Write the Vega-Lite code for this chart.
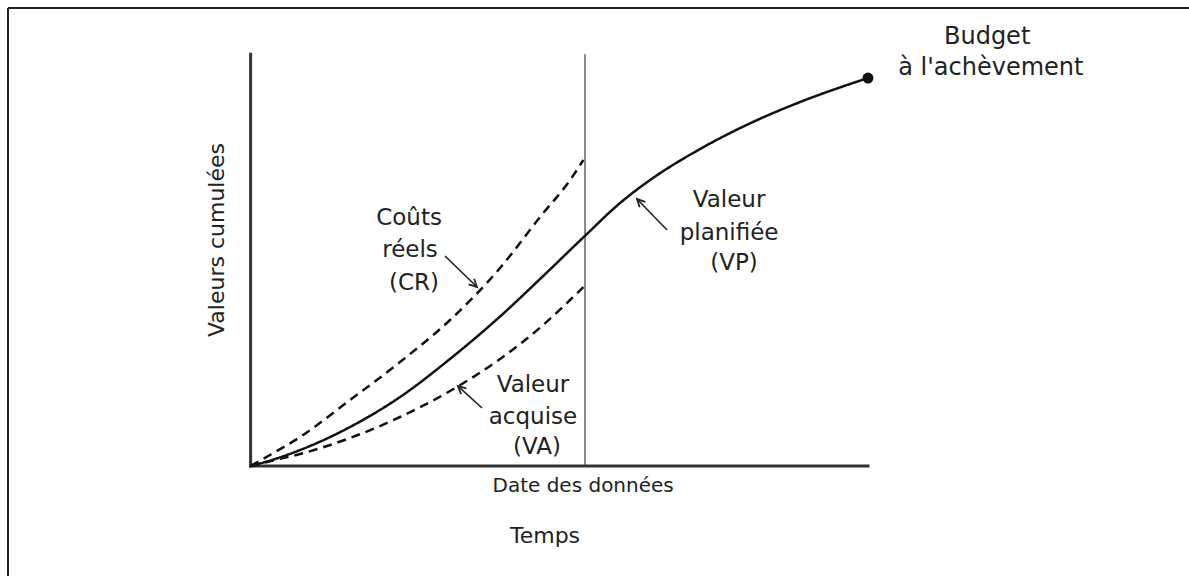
{
  "$schema": "https://vega.github.io/schema/vega-lite/v6.json",
  "width": 1181,
  "height": 568,
  "autosize": {"type": "none"},
  "padding": {"left": 8, "top": 8, "right": 0, "bottom": 0},
  "background": "white",
  "config": {"view": {"stroke": null}},
  "datasets": {
    "curves": [
      {"series": "VP", "t": 0, "v": 0},
      {"series": "VP", "t": 3.95, "v": 1.7},
      {"series": "VP", "t": 8.0, "v": 3.88},
      {"series": "VP", "t": 16.1, "v": 9.47},
      {"series": "VP", "t": 24.2, "v": 16.75},
      {"series": "VP", "t": 32.3, "v": 26.0},
      {"series": "VP", "t": 40.4, "v": 36.3},
      {"series": "VP", "t": 46.88, "v": 45.4},
      {"series": "VP", "t": 54.1, "v": 55.8},
      {"series": "VP", "t": 59.84, "v": 63.85},
      {"series": "VP", "t": 64.7, "v": 69.43},
      {"series": "VP", "t": 72.8, "v": 76.96},
      {"series": "VP", "t": 80.9, "v": 83.2},
      {"series": "VP", "t": 89.0, "v": 88.37},
      {"series": "VP", "t": 100, "v": 94.2},
      {"series": "CR", "t": 0, "v": 0},
      {"series": "CR", "t": 3.14, "v": 2.67},
      {"series": "CR", "t": 8.0, "v": 7.04},
      {"series": "CR", "t": 16.1, "v": 16.02},
      {"series": "CR", "t": 24.2, "v": 25.25},
      {"series": "CR", "t": 32.3, "v": 35.45},
      {"series": "CR", "t": 40.4, "v": 48.07},
      {"series": "CR", "t": 46.88, "v": 60.45},
      {"series": "CR", "t": 51.75, "v": 69.43},
      {"series": "CR", "t": 53.9, "v": 74.29},
      {"series": "VA", "t": 0, "v": 0},
      {"series": "VA", "t": 3.95, "v": 1.46},
      {"series": "VA", "t": 8.0, "v": 2.91},
      {"series": "VA", "t": 16.1, "v": 6.8},
      {"series": "VA", "t": 24.2, "v": 11.9},
      {"series": "VA", "t": 32.3, "v": 18.21},
      {"series": "VA", "t": 40.4, "v": 25.98},
      {"series": "VA", "t": 47.37, "v": 34.23},
      {"series": "VA", "t": 53.9, "v": 43.46}
    ],
    "lines": [
      {"kind": "frame", "t": -39.3, "v": 111.2, "t2": 152, "v2": 111.2},
      {"kind": "frame", "t": -39.3, "v": -26.7, "t2": -39.3, "v2": 111.2},
      {"kind": "axis", "t": 0, "v": 0, "t2": 0, "v2": 100},
      {"kind": "axis", "t": 0, "v": 0, "t2": 100, "v2": 0},
      {"kind": "date", "t": 54.17, "v": 0, "t2": 54.17, "v2": 100}
    ],
    "arrows": [
      {"label": "CR", "t": 31.49, "v": 50.98, "t2": 36.67, "v2": 43.46},
      {"label": "VP", "t": 67.45, "v": 57.3, "t2": 62.59, "v2": 64.82},
      {"label": "VA", "t": 37.48, "v": 14.08, "t2": 33.59, "v2": 19.42}
    ],
    "labels": [
      {"role": "note", "text": "Coûts", "t": 25.66, "v": 60.21},
      {"role": "note", "text": "réels", "t": 25.82, "v": 52.44},
      {"role": "note", "text": "(CR)", "t": 26.47, "v": 44.43},
      {"role": "note", "text": "Valeur", "t": 77.5, "v": 64.58},
      {"role": "note", "text": "planifiée", "t": 77.5, "v": 56.57},
      {"role": "note", "text": "(VP)", "t": 78.3, "v": 49.28},
      {"role": "note", "text": "Valeur", "t": 45.74, "v": 19.67},
      {"role": "note", "text": "acquise", "t": 45.74, "v": 11.9},
      {"role": "note", "text": "(VA)", "t": 46.39, "v": 4.61},
      {"role": "budget", "text": "Budget", "t": 119.3, "v": 104.15},
      {"role": "budget", "text": "à l'achèvement", "t": 119.9, "v": 96.63},
      {"role": "date", "text": "Date des données", "t": 53.86, "v": -4.86},
      {"role": "xtitle", "text": "Temps", "t": 47.69, "v": -17.0},
      {"role": "ytitle", "text": "Valeurs cumulées", "t": -5.44, "v": 54.87}
    ],
    "endpoint": [
      {"label": "Budget à l'achèvement", "t": 100, "v": 94.2}
    ]
  },
  "encoding": {
    "x": {"field": "t", "type": "quantitative", "scale": {"domain": [-39.3, 152], "nice": false, "zero": false}, "axis": null},
    "y": {"field": "v", "type": "quantitative", "scale": {"domain": [-26.7, 111.2], "nice": false, "zero": false}, "axis": null}
  },
  "layer": [
    {
      "data": {"name": "lines"},
      "transform": [{"filter": "datum.kind == 'frame'"}],
      "mark": {"type": "rule", "stroke": "#222222", "strokeWidth": 2},
      "encoding": {"x2": {"field": "t2"}, "y2": {"field": "v2"}}
    },
    {
      "data": {"name": "lines"},
      "transform": [{"filter": "datum.kind == 'date'"}],
      "mark": {"type": "rule", "stroke": "#888888", "strokeWidth": 2},
      "encoding": {"x2": {"field": "t2"}, "y2": {"field": "v2"}}
    },
    {
      "data": {"name": "lines"},
      "transform": [{"filter": "datum.kind == 'axis'"}],
      "mark": {"type": "rule", "stroke": "#333333", "strokeWidth": 3, "strokeCap": "square"},
      "encoding": {"x2": {"field": "t2"}, "y2": {"field": "v2"}}
    },
    {
      "data": {"name": "curves"},
      "mark": {"type": "line", "interpolate": "monotone", "stroke": "#111111", "strokeWidth": 2.5},
      "encoding": {
        "detail": {"field": "series"},
        "strokeDash": {"field": "series", "type": "nominal", "scale": {"domain": ["VP", "CR", "VA"], "range": [[1, 0], [9, 6], [9, 6]]}, "legend": null}
      }
    },
    {
      "data": {"name": "endpoint"},
      "mark": {"type": "point", "filled": true, "fill": "#111111", "size": 120, "opacity": 1}
    },
    {
      "data": {"name": "arrows"},
      "mark": {"type": "rule", "stroke": "#222222", "strokeWidth": 1.6},
      "encoding": {"x2": {"field": "t2"}, "y2": {"field": "v2"}}
    },
    {
      "data": {"name": "arrows"},
      "transform": [{"calculate": "atan2((datum.t2 - datum.t) * 6.1735, (datum.v2 - datum.v) * 4.119) * 180 / PI", "as": "angle"}],
      "mark": {"type": "point", "shape": "M-0.45,0.9 L0,0 L0.45,0.9", "filled": false, "stroke": "#222222", "strokeWidth": 1.8, "size": 300, "opacity": 1},
      "encoding": {
        "x": {"field": "t2", "type": "quantitative"},
        "y": {"field": "v2", "type": "quantitative"},
        "angle": {"field": "angle", "type": "quantitative", "scale": null}
      }
    },
    {
      "data": {"name": "labels"},
      "transform": [{"filter": "datum.role == 'note'"}],
      "mark": {"type": "text", "font": "DejaVu Sans", "fontSize": 23, "fill": "#222222", "align": "center", "baseline": "middle"},
      "encoding": {"text": {"field": "text"}}
    },
    {
      "data": {"name": "labels"},
      "transform": [{"filter": "datum.role == 'budget'"}],
      "mark": {"type": "text", "font": "DejaVu Sans", "fontSize": 24, "fill": "#222222", "align": "center", "baseline": "middle"},
      "encoding": {"text": {"field": "text"}}
    },
    {
      "data": {"name": "labels"},
      "transform": [{"filter": "datum.role == 'date'"}],
      "mark": {"type": "text", "font": "DejaVu Sans", "fontSize": 20, "fill": "#222222", "align": "center", "baseline": "middle"},
      "encoding": {"text": {"field": "text"}}
    },
    {
      "data": {"name": "labels"},
      "transform": [{"filter": "datum.role == 'xtitle'"}],
      "mark": {"type": "text", "font": "DejaVu Sans", "fontSize": 22, "fill": "#222222", "align": "center", "baseline": "middle"},
      "encoding": {"text": {"field": "text"}}
    },
    {
      "data": {"name": "labels"},
      "transform": [{"filter": "datum.role == 'ytitle'"}],
      "mark": {"type": "text", "font": "DejaVu Sans", "fontSize": 22, "fill": "#222222", "align": "center", "baseline": "middle", "angle": 270},
      "encoding": {"text": {"field": "text"}}
    }
  ]
}
